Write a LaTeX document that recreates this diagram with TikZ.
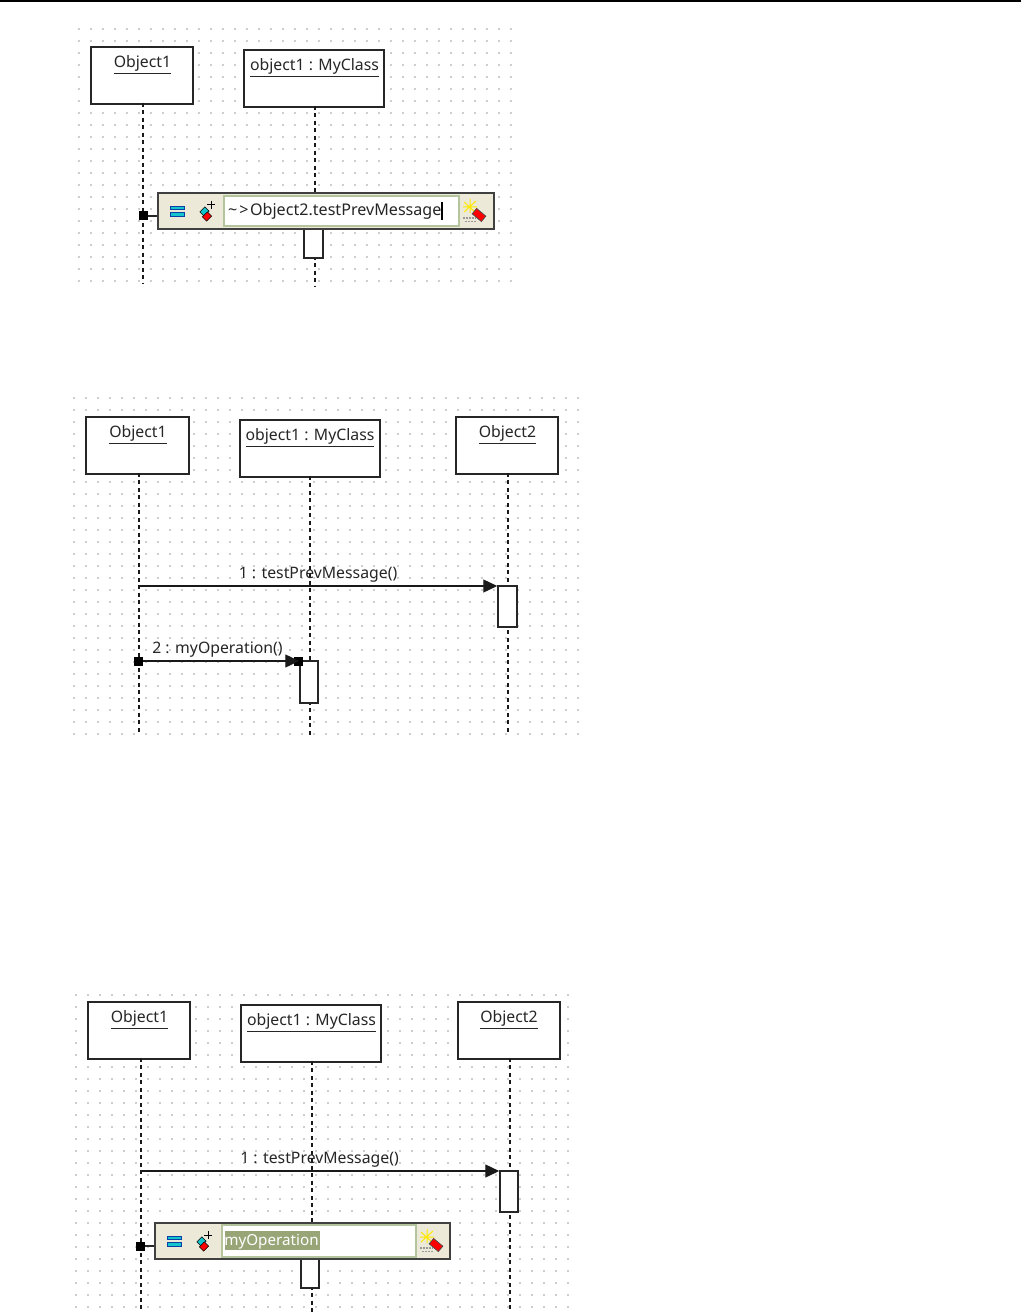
\documentclass[tikz,border=0pt]{standalone}
\usepackage{fontspec}
\setmainfont{Noto Sans}
\usetikzlibrary{arrows.meta}
\definecolor{tbbg}{HTML}{ECE9D8}
\definecolor{tbedge}{HTML}{404040}
\definecolor{fieldedge}{HTML}{B4C49C}
\definecolor{griddot}{HTML}{CDCDCD}
\definecolor{selbg}{HTML}{98A577}
\definecolor{barcyan}{HTML}{14C4CC}
\definecolor{barblue}{HTML}{0A3FA8}
\newcommand{\dotgrid}[4]{% x0, y0, last column, last row
  \foreach \gi in {0,...,#3}{\foreach \gj in {0,...,#4}{%
    \fill[griddot] ({#1+\gi*12-0.7},{#2+\gj*12-0.7}) rectangle ++(1.4,1.4);}}}
\newcommand{\uln}[1]{\underline{#1}}
\newcommand{\eqicon}[1]{%
  \begin{scope}[shift={(#1)}]
    \filldraw[fill=barcyan,draw=barblue,line width=0.9] (-7,-5) rectangle (7,-1.2);
    \filldraw[fill=barcyan,draw=barblue,line width=0.9] (-7,1.2) rectangle (7,5);
  \end{scope}}
\newcommand{\penicon}[1]{%
  \begin{scope}[shift={(#1)}]
    \begin{scope}[shift={(-1.5,0.5)},rotate=-45]
      \filldraw[fill=barcyan,draw=black,line width=0.6] (-3,-3.5) rectangle (3,3.5);
    \end{scope}
    \begin{scope}[shift={(1,5.5)},rotate=-45]
      \filldraw[fill=red,draw=black,line width=0.6] (-3,-3.5) rectangle (3,3.5);
    \end{scope}
    \draw[black,line width=1] (1,-6) -- (9,-6) (5,-10) -- (5,-2);
  \end{scope}}
\newcommand{\eraseicon}[1]{%
  \begin{scope}[shift={(#1)}]
    \draw[yellow!90!orange,line width=1] (-10,-10) -- (1,0) (-4,-13) -- (-4,1) (-11,-5) -- (3,-5) (2,-11) -- (-10,0);
    \draw[gray!80,line width=1.2,dash pattern=on 1.5pt off 1.5pt] (-11,6) -- (2,6) (-9,9.5) -- (3,9.5);
    \begin{scope}[shift={(5,3)},rotate=-40]
      \filldraw[fill=red,draw=black!70,line width=0.7] (-6,-3.5) rectangle (6,3.5);
    \end{scope}
  \end{scope}}
\tikzset{
  objbox/.style={draw=black!85,line width=1.5,fill=white,inner sep=0pt},
  lifeline/.style={draw=black!90,line width=1.5,dash pattern=on 4pt off 3.5pt},
  actbox/.style={draw=black!85,line width=1.5,fill=white,inner sep=0pt},
  lbl/.style={inner sep=0pt,font=\fontsize{15.8}{17}\selectfont,text=black!85,anchor=center},
  msg/.style={draw=black!90,line width=1.4,-{Triangle[length=14pt,width=13pt]}},
  handle/.style={fill=black,draw=none,inner sep=0pt,minimum size=9pt},
  stub/.style={draw=black!85,line width=1.4},
  toolbar/.style={draw=tbedge,line width=1.6,fill=tbbg,inner sep=0pt},
  field/.style={draw=fieldedge,line width=1.2,fill=white,inner sep=0pt},
}
\begin{document}
\begin{tikzpicture}[x=1pt,y=-1pt]
\useasboundingbox (0,0) rectangle (1021,1313);
\fill[white] (0,0) rectangle (1021,1313);
\draw[black,line width=1.6] (0,0.8) -- (1021,0.8);
% ---------- panel 1 ----------
\dotgrid{79}{29}{36}{21}
\node[objbox,minimum width=102pt,minimum height=57pt] (aA) at (142,75.5) {};
\node[objbox,minimum width=140pt,minimum height=57pt] (aB) at (314,78.5) {};
\node[lbl] (aAt) at (142.5,64.5) {\uln{Object1}};
\node[lbl] (aBt) at (314.5,67.5) {\uln{object1 : MyClass}};
\coordinate (aAe) at (143,283);
\coordinate (aBe) at (315,286);
\draw[lifeline] ([yshift=2pt]aAe |- aA.south) -- (aAe);
\draw[lifeline] ([yshift=2pt]aBe |- aB.south) -- (aBe);
\node[actbox,minimum width=19pt,minimum height=36pt] (aAct) at (313.5,240) {};
\node[handle] (aH) at (143,216) {};
\node[toolbar,minimum width=336pt,minimum height=36pt] (aT) at (326,211) {};
\draw[stub] (aH) -- (aT.west |- aH);
\node[field,minimum width=235pt,minimum height=30pt] (aF) at (341.5,211) {};
\eqicon{177,211}
\penicon{206,211}
\eraseicon{474,212}
\node[lbl,anchor=west,font=\fontsize{16.1}{17}\selectfont] (aFt) at (228,211.5) {\char126\kern2pt>\kern1.5pt Object2.testPrevMessage};
\node[inner sep=0pt,minimum width=1.2pt,minimum height=18pt,fill=black] (aC) at (442,211) {};
% ---------- panel 2 ----------
\dotgrid{74}{398}{42}{28}
\node[objbox,minimum width=103pt,minimum height=57pt] (bA) at (137.5,445.5) {};
\node[objbox,minimum width=140pt,minimum height=57pt] (bB) at (310,448.5) {};
\node[objbox,minimum width=102pt,minimum height=57pt] (bC) at (507,445.5) {};
\node[lbl] (bAt) at (138,434.5) {\uln{Object1}};
\node[lbl] (bBt) at (310,437.5) {\uln{object1 : MyClass}};
\node[lbl] (bCt) at (507.5,434.5) {\uln{Object2}};
\coordinate (bAe) at (139,735);
\coordinate (bBe) at (310,737);
\coordinate (bCe) at (508,735);
\draw[lifeline] ([yshift=2pt]bAe |- bA.south) -- (bAe);
\draw[lifeline] ([yshift=2pt]bBe |- bB.south) -- (bBe);
\draw[lifeline] ([yshift=2pt]bCe |- bC.south) -- (bCe);
\node[actbox,minimum width=19pt,minimum height=41pt] (bAct1) at (507.5,606.5) {};
\node[actbox,minimum width=18pt,minimum height=42pt] (bAct2) at (309,682) {};
\coordinate (bS1) at (139,586);
\node[handle] (bH) at (138,661) {};
\node[handle] (bH2) at (298,661) {};
\draw[msg] (bS1) -- (bAct1.west |- bS1);
\draw[msg] (bH) -- (bAct2.west |- bH);
\node[lbl] (bL1) at (318,574.5) {1 : testPrevMessage()};
\node[lbl] (bL2) at (217.5,649.5) {2 : myOperation()};
% ---------- panel 3 ----------
\dotgrid{76}{995}{41}{26}
\node[objbox,minimum width=102pt,minimum height=57pt] (cA) at (139,1030.5) {};
\node[objbox,minimum width=140pt,minimum height=57pt] (cB) at (311,1033.5) {};
\node[objbox,minimum width=102pt,minimum height=57pt] (cC) at (509,1030.5) {};
\node[lbl] (cAt) at (139.5,1019.5) {\uln{Object1}};
\node[lbl] (cBt) at (311.5,1022.5) {\uln{object1 : MyClass}};
\node[lbl] (cCt) at (509,1019.5) {\uln{Object2}};
\coordinate (cAe) at (141,1313);
\coordinate (cBe) at (312,1313);
\coordinate (cCe) at (510,1313);
\draw[lifeline] ([yshift=2pt]cAe |- cA.south) -- (cAe);
\draw[lifeline] ([yshift=2pt]cBe |- cB.south) -- (cBe);
\draw[lifeline] ([yshift=2pt]cCe |- cC.south) -- (cCe);
\node[actbox,minimum width=18pt,minimum height=41pt] (cAct1) at (509,1191.5) {};
\node[actbox,minimum width=18pt,minimum height=36pt] (cAct2) at (310,1270) {};
\coordinate (cS1) at (141,1171);
\draw[msg] (cS1) -- (cAct1.west |- cS1);
\node[lbl] (cL1) at (319.5,1159.5) {1 : testPrevMessage()};
\node[handle] (cH) at (140,1246) {};
\node[toolbar,minimum width=295pt,minimum height=36pt] (cT) at (302.5,1241) {};
\draw[stub] (cH) -- (cT.west |- cH);
\node[field,minimum width=194pt,minimum height=32pt] (cF) at (319,1241) {};
\eqicon{174.5,1241}
\penicon{203,1241}
\eraseicon{431,1242}
\node[inner sep=0pt,minimum width=95pt,minimum height=19pt,fill=selbg] (cS) at (272,1240.5) {};
\node[lbl,text=white,font=\fontsize{15.2}{17}\selectfont] (cFt) at (271.5,1241.5) {myOperation};
\end{tikzpicture}
\end{document}
